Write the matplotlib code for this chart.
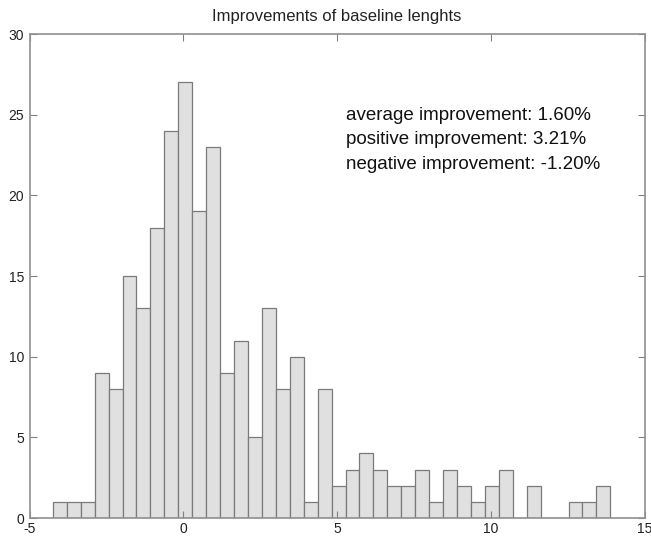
import numpy as np
import matplotlib
matplotlib.use("Agg")
import matplotlib.pyplot as plt

# histogram: 40 equal bins
bin_lo, bin_hi = -4.24, 13.89
counts = [1, 1, 1, 9, 8, 15, 13, 18, 24, 27,
          19, 23, 9, 11, 5, 13, 8, 10, 1, 8,
          2, 3, 4, 3, 2, 2, 3, 1, 3, 2,
          1, 2, 3, 0, 2, 0, 0, 1, 1, 2]
x_ticks = [-5, 0, 5, 10, 15]
y_ticks = [0, 5, 10, 15, 20, 25, 30]
stats_lines = ["average improvement: 1.60%",
               "positive improvement: 3.21%",
               "negative improvement: -1.20%"]
title = "Improvements of baseline lenghts"

plt.rcParams["font.family"] = ["Liberation Sans", "DejaVu Sans"]
plt.rcParams["axes.unicode_minus"] = False

fig = plt.figure(figsize=(6.51, 5.38), dpi=100)
ax = fig.add_axes([29.5 / 651, 20 / 538, 615 / 651, 484 / 538])

edges = np.linspace(bin_lo, bin_hi, len(counts) + 1)
ax.bar(edges[:-1], counts, width=np.diff(edges), align="edge",
       color="#e0e0e0", edgecolor="#7a7a7a", linewidth=0.9)

ax.set_xlim(-5, 15)
ax.set_ylim(0, 30)
ax.set_xticks(x_ticks)
ax.set_yticks(y_ticks)
ax.tick_params(direction="in", length=5, width=0.8, color="#808080",
               top=True, right=True, labelsize=10, labelcolor="#222222")
ax.tick_params(axis="x", pad=3)
ax.tick_params(axis="y", pad=4)
for s in ax.spines.values():
    s.set_color("#909090")
    s.set_linewidth(1.2)

ax.set_title(title, fontsize=12, pad=9, color="#222222")

ax.text(0.515, 0.781, "\n".join(stats_lines), transform=ax.transAxes,
        fontsize=13.5, va="center", ha="left", linespacing=1.56,
        color="#111111")

fig.savefig("out.png", dpi=100)
